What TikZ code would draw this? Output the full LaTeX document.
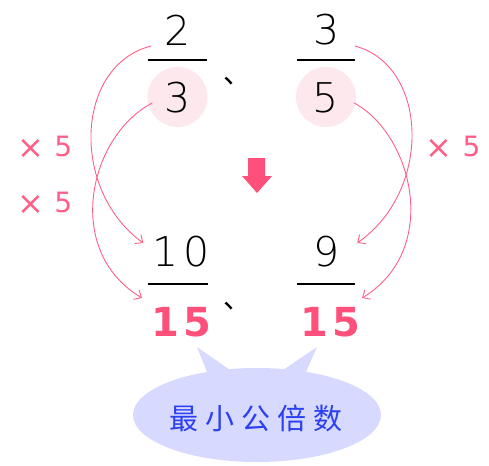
\documentclass[tikz,border=0pt]{standalone}
\usepackage{fontspec}
\setmainfont{DejaVu Sans}
\newfontfamily\thindigit{DejaVu Sans ExtraLight}
\newfontfamily\cjk{Noto Sans CJK SC}
\usetikzlibrary{arrows.meta,calc}
\definecolor{pinkline}{HTML}{FF5F87}
\definecolor{pinkfill}{HTML}{FDE8ED}
\definecolor{arrowpink}{HTML}{FF4F7B}
\definecolor{bubblefill}{HTML}{D7D9FF}
\definecolor{bluetext}{HTML}{2B40F0}
\newcommand{\bigtimes}{\raisebox{-2pt}{\fontsize{32}{32}\selectfont ×}}
\tikzset{
  numtext/.style={inner sep=0pt, font=\thindigit\fontsize{41}{41}\selectfont},
  redtext/.style={inner sep=0pt, text=arrowpink, font=\bfseries\fontsize{40}{40}\selectfont},
  timestext/.style={inner sep=0pt, text=pinkline, font=\fontsize{28}{28}\selectfont},
  commatext/.style={inner sep=0pt, anchor=west, font=\cjk\fontsize{28}{28}\selectfont},
  fracbar/.style={line width=1.6pt},
  denomcircle/.style={circle, fill=pinkfill, minimum size=60pt, inner sep=0pt},
  curvearrow/.style={draw=pinkline, line width=0.9pt, -{Straight Barb[length=6pt,width=11pt]}},
}
\begin{document}
\begin{tikzpicture}[x=1pt,y=-1pt]
\useasboundingbox (0,0) rectangle (489,465);
% circles behind denominators
\node[denomcircle] (c1) at (177.5,97) {};
\node[denomcircle] (c2) at (326,97) {};
% top fractions
\node[numtext] (n1) at (177.5,30) {2};
\node[numtext] (d1) at (177.5,98) {3};
\node[numtext] (n2) at (326.5,30) {3};
\node[numtext] (d2) at (326,98) {5};
\coordinate (b1) at (177.5,60);
\coordinate (b2) at (326,60);
\draw[fracbar] ($(b1)+(-29.5,0)$) -- ($(b1)+(29.5,0)$);
\draw[fracbar] ($(b2)+(-29,0)$) -- ($(b2)+(29,0)$);
\node[commatext] (k1) at (223,81) {、};
% down arrow
\fill[arrowpink] (248,158) -- (265,158) -- (265,176) -- (272,176) -- (257,193) -- (242,176) -- (248,176) -- cycle;
% bottom fractions
\node[numtext] (n3) at (181,252) {1\hspace{5pt}0};
\node[numtext] (n4) at (327,252) {9};
\coordinate (b3) at (178,284);
\coordinate (b4) at (326,284);
\draw[fracbar] ($(b3)+(-30,0)$) -- ($(b3)+(30,0)$);
\draw[fracbar] ($(b4)+(-29,0)$) -- ($(b4)+(29,0)$);
\node[redtext] (d3) at (181,322) {1\hspace{4pt}5};
\node[redtext] (d4) at (330,322) {1\hspace{4pt}5};
\node[commatext] (k2) at (223,306) {、};
% times labels
\node[timestext] (t1) at (45,147) {\bigtimes\hspace{10pt}5};
\node[timestext] (t2) at (45,203) {\bigtimes\hspace{10pt}5};
\node[timestext] (t3) at (453,147) {\bigtimes\hspace{10pt}5};
% curved arrows, left
\coordinate (e1) at ($(n3.west)+(-9,-9)$);
\coordinate (e2) at ($(d3.west)+(-9,-24)$);
\draw[curvearrow] ($(n1.west)+(-13,16)$) .. controls (75,65) and (70,190) .. (e1);
\draw[curvearrow] ($(d1.west)+(-12,5)$) .. controls (90,135) and (62,250) .. (e2);
% curved arrows, right
\coordinate (e3) at ($(n4.east)+(17,-9)$);
\coordinate (e4) at ($(d4.east)+(2,-24)$);
\draw[curvearrow] ($(n2.east)+(15,16)$) .. controls (428,65) and (433,190) .. (e3);
\draw[curvearrow] ($(d2.east)+(15,5)$) .. controls (413,135) and (441,250) .. (e4);
% speech bubble
\fill[bubblefill] (197,347) -- (207,372) -- (230,370) -- cycle;
\fill[bubblefill] (317,347) -- (283,370) -- (306,372) -- cycle;
\fill[bubblefill] (257,415) ellipse [x radius=124, y radius=47];
\node[inner sep=0pt, text=bluetext, font=\cjk\fontsize{29}{29}\selectfont] (bubble) at (256,418)
  {最\hspace{7pt}小\hspace{7pt}公\hspace{7pt}倍\hspace{7pt}数};
\end{tikzpicture}
\end{document}
